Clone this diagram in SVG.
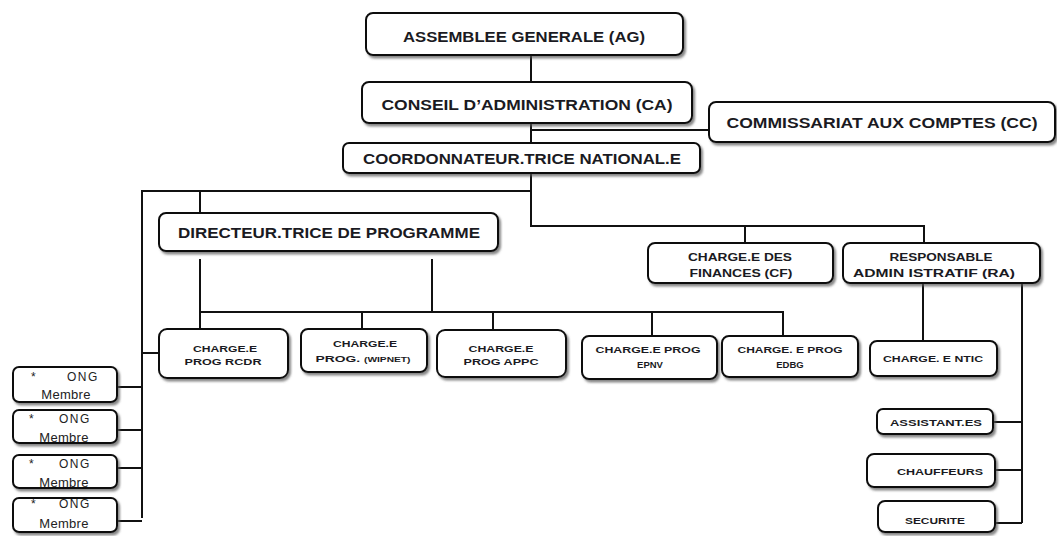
<svg xmlns="http://www.w3.org/2000/svg" width="1057" height="536" viewBox="0 0 1057 536">
<defs>
<filter id="sh" x="-10%" y="-20%" width="130%" height="160%">
<feDropShadow dx="2" dy="2.5" stdDeviation="1.2" flood-color="#555" flood-opacity="0.7"/>
</filter>
<style>
.b{fill:#fff;stroke:#111;stroke-width:2;filter:url(#sh)}
.t{font-family:"Liberation Sans",Arial,sans-serif;font-weight:bold;fill:#1a1a22;text-anchor:middle}
.o{font-family:"Liberation Sans",Arial,sans-serif;fill:#222;font-size:12px;letter-spacing:1.5px}
.m{font-family:"Liberation Sans",Arial,sans-serif;fill:#222;font-size:13px;letter-spacing:0.3px;text-anchor:middle}
.c{fill:none;stroke:#111;stroke-width:2}
</style>
</defs>
<rect width="1057" height="536" fill="#fff"/>
<g id="connectors">
<path class="c" d="M531 55V82M531 123V143M531 130H709M531 173V226H924V243M745 226V243M531 191H142V518M200 191V213"/>
<path class="c" d="M200 259V329M432 259V312M200 312H783V336M362 312V329M493 312V330M652 313V336"/>
<path class="c" d="M142 353H159M117 387H142M117 430H142M117 468H142M117 521H142"/>
<path class="c" d="M923 283V341M1022 283V523M993 422H1022M995 470H1022M995 523H1022"/>
</g>
<g id="ag"><rect class="b" x="366" y="13" width="317" height="42" rx="7"/><text class="t" x="524" y="42" font-size="14" textLength="242" lengthAdjust="spacingAndGlyphs">ASSEMBLEE  GENERALE (AG)</text></g>
<g id="ca"><rect class="b" x="362" y="82" width="330" height="41" rx="7"/><text class="t" x="527" y="110" font-size="14" textLength="291" lengthAdjust="spacingAndGlyphs">CONSEIL D’ADMINISTRATION  (CA)</text></g>
<g id="cc"><rect class="b" x="709" y="102" width="346" height="40" rx="7"/><text class="t" x="882" y="128" font-size="14" textLength="311" lengthAdjust="spacingAndGlyphs">COMMISSARIAT  AUX COMPTES  (CC)</text></g>
<g id="cn"><rect class="b" x="343" y="143" width="357" height="30" rx="6"/><text class="t" x="522" y="164" font-size="14" textLength="318" lengthAdjust="spacingAndGlyphs">COORDONNATEUR.TRICE  NATIONAL.E</text></g>
<g id="dp"><rect class="b" x="159" y="213" width="339" height="38" rx="7"/><text class="t" x="329" y="238" font-size="14" textLength="302" lengthAdjust="spacingAndGlyphs">DIRECTEUR.TRICE  DE PROGRAMME</text></g>
<g id="cf"><rect class="b" x="648" y="243" width="185" height="40" rx="7"/><text class="t" x="740" y="261" font-size="11" textLength="104" lengthAdjust="spacingAndGlyphs">CHARGE.E DES</text><text class="t" x="741" y="277" font-size="11" textLength="103" lengthAdjust="spacingAndGlyphs">FINANCES (CF)</text></g>
<g id="ra"><rect class="b" x="843" y="243" width="197" height="40" rx="7"/><text class="t" x="941" y="261" font-size="11" textLength="103" lengthAdjust="spacingAndGlyphs">RESPONSABLE</text><text class="t" x="934" y="277" font-size="11" textLength="162" lengthAdjust="spacingAndGlyphs">ADMIN ISTRATIF (RA)</text></g>
<g id="rcdr"><rect class="b" x="159" y="329" width="129" height="49" rx="8"/><text class="t" x="225" y="352" font-size="9.5" textLength="64" lengthAdjust="spacingAndGlyphs">CHARGE.E</text><text class="t" x="223" y="365" font-size="9.5" textLength="77" lengthAdjust="spacingAndGlyphs">PROG  RCDR</text></g>
<g id="wipnet"><rect class="b" x="301" y="329" width="126" height="43" rx="7"/><text class="t" x="365" y="347" font-size="9.5" textLength="64" lengthAdjust="spacingAndGlyphs">CHARGE.E</text><text class="t" x="363" y="362" font-size="9.5" textLength="95" lengthAdjust="spacingAndGlyphs">PROG.  <tspan font-size="7">(WIPNET)</tspan></text></g>
<g id="appc"><rect class="b" x="437" y="330" width="129" height="47" rx="8"/><text class="t" x="501" y="352" font-size="9.5" textLength="65" lengthAdjust="spacingAndGlyphs">CHARGE.E</text><text class="t" x="501" y="365" font-size="9.5" textLength="75" lengthAdjust="spacingAndGlyphs">PROG  APPC</text></g>
<g id="epnv"><rect class="b" x="582" y="336" width="135" height="43" rx="7"/><text class="t" x="648" y="353" font-size="9.5" textLength="105" lengthAdjust="spacingAndGlyphs">CHARGE.E PROG</text><text class="t" x="650" y="368" font-size="9.5">EPNV</text></g>
<g id="edbg"><rect class="b" x="722" y="336" width="136" height="41" rx="7"/><text class="t" x="790" y="353" font-size="9.5" textLength="105" lengthAdjust="spacingAndGlyphs">CHARGE. E PROG</text><text class="t" x="790" y="368" font-size="9.5">EDBG</text></g>
<g id="ntic"><rect class="b" x="870" y="341" width="127" height="35" rx="7"/><text class="t" x="933" y="362" font-size="9.5" textLength="100" lengthAdjust="spacingAndGlyphs">CHARGE. E NTIC</text></g>
<g id="assist"><rect class="b" x="877" y="409" width="116" height="25" rx="6"/><text class="t" x="936" y="426" font-size="9.5" textLength="92" lengthAdjust="spacingAndGlyphs">ASSISTANT.ES</text></g>
<g id="chauf"><rect class="b" x="867" y="454" width="128" height="33" rx="7"/><text class="t" x="940" y="475" font-size="9.5" textLength="86" lengthAdjust="spacingAndGlyphs">CHAUFFEURS</text></g>
<g id="secu"><rect class="b" x="878" y="501" width="117" height="31" rx="7"/><text class="t" x="935" y="524" font-size="9.5" textLength="60" lengthAdjust="spacingAndGlyphs">SECURITE</text></g>
<g id="ong1"><rect class="b" x="13" y="367" width="104" height="35" rx="6"/><text class="o" x="31" y="381">*</text><text class="o" x="67" y="381">ONG</text><text class="m" x="66" y="399">Membre</text></g>
<g id="ong2"><rect class="b" x="13" y="410" width="104" height="33" rx="6"/><text class="o" x="29" y="423">*</text><text class="o" x="59" y="423">ONG</text><text class="m" x="64" y="442">Membre</text></g>
<g id="ong3"><rect class="b" x="13" y="455" width="104" height="33" rx="6"/><text class="o" x="29" y="468">*</text><text class="o" x="59" y="468">ONG</text><text class="m" x="64" y="487">Membre</text></g>
<g id="ong4"><rect class="b" x="13" y="498" width="104" height="34" rx="6"/><text class="o" x="31" y="508">*</text><text class="o" x="59" y="508">ONG</text><text class="m" x="64" y="528">Membre</text></g>
</svg>
